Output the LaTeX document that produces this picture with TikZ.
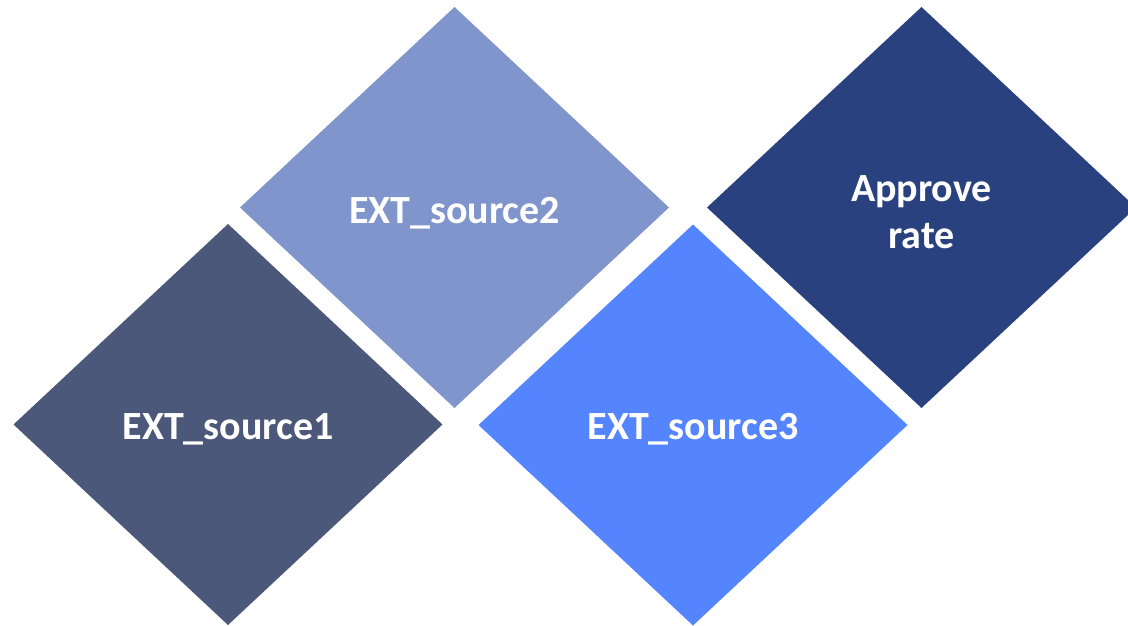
\documentclass[tikz,border=0pt]{standalone}
\usepackage{fontspec}
\setmainfont{Carlito}
\definecolor{cA}{HTML}{4B587A}
\definecolor{cB}{HTML}{8095CB}
\definecolor{cC}{HTML}{5584FF}
\definecolor{cD}{HTML}{2A4180}
\begin{document}
\begin{tikzpicture}[x=1pt,y=-1pt,
  lbl/.style={text=white,font=\fontsize{40}{47}\selectfont\bfseries,align=center,inner sep=0pt}]
\useasboundingbox (0,0) rectangle (1128,626);
\clip (0,0) rectangle (1128,626);
\newcommand{\dia}[3]{\fill[#3] (#1-214.5,#2) -- (#1,#2-200.5) -- (#1+214.5,#2) -- (#1,#2+200.5) -- cycle;}
\dia{228}{424.5}{cA}
\dia{454.5}{207.5}{cB}
\dia{693}{425}{cC}
\dia{921.5}{207.5}{cD}
\node[lbl] (n1) at (228,429) {EXT\_source1};
\node[lbl] (n2) at (454.5,213) {EXT\_source2};
\node[lbl] (n3) at (693,429) {EXT\_source3};
\node[lbl] (n4) at (921.5,212) {Approve\\rate};
\end{tikzpicture}
\end{document}
